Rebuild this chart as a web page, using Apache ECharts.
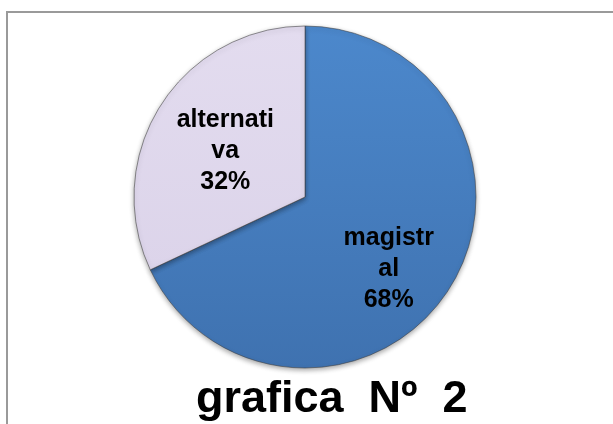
<!DOCTYPE html>
<html>
<head>
<meta charset="utf-8">
<script src="https://cdn.jsdelivr.net/npm/echarts@6/dist/echarts.min.js"></script>
<style>
  html, body { margin: 0; padding: 0; background: #fff; }
  #chart { width: 613px; height: 424px; }
</style>
</head>
<body>
<div id="chart"></div>
<script>
// slices, clockwise from 12 o'clock
const categories = ["magistral", "alternativa"];
const labelText = ["magistr\nal", "alternati\nva"];
const values = [68, 32];
const titleText = "grafica  Nº  2";

const sliceColors = [
  new echarts.graphic.LinearGradient(0, 0, 0, 1, [
    { offset: 0, color: "#4c88cc" },
    { offset: 1, color: "#3f72b0" },
  ]),
  new echarts.graphic.LinearGradient(0, 0, 0, 1, [
    { offset: 0, color: "#e3dcef" },
    { offset: 1, color: "#dcd4ea" },
  ]),
];
const labelOffsets = [[9, 25], [-5, 2]];

const chart = echarts.init(document.getElementById("chart"), null, { renderer: "canvas" });

chart.setOption({
  backgroundColor: "#ffffff",
  animation: false,
  graphic: [
    {
      type: "rect",
      shape: { x: 7, y: 12, width: 700, height: 500 },
      style: { fill: "none", stroke: "#9a9a9a", lineWidth: 2 },
      z: 0,
    },
  ],
  title: {
    text: titleText,
    left: 196,
    top: 377,
    padding: 0,
    textStyle: {
      fontFamily: "Liberation Sans, Arial, sans-serif",
      fontWeight: "bold",
      fontSize: 45,
      color: "#000",
    },
  },
  series: [
    {
      type: "pie",
      center: [305, 197],
      radius: [0, 171],
      startAngle: 90,
      clockwise: true,
      label: {
        show: true,
        position: "inside",
        fontFamily: "Liberation Sans, Arial, sans-serif",
        fontWeight: "bold",
        fontSize: 25,
        lineHeight: 31,
        color: "#000",
        align: "center",
      },
      labelLine: { show: false },
      emphasis: { disabled: true },
      itemStyle: {
        borderColor: "rgba(60,60,60,0.55)",
        borderWidth: 1,
        shadowBlur: 5,
        shadowOffsetY: 2,
        shadowColor: "rgba(0,0,0,0.35)",
      },
      data: categories.map((name, i) => ({
        name,
        value: values[i],
        itemStyle: { color: sliceColors[i] },
        label: {
          formatter: (p) => `${labelText[p.dataIndex]}\n${Math.round(p.percent)}%`,
          offset: labelOffsets[i],
        },
      })),
    },
  ],
});
</script>
</body>
</html>
